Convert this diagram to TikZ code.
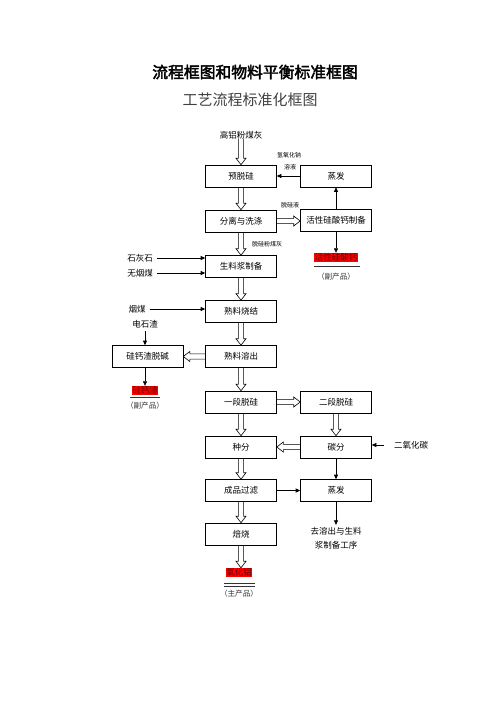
\documentclass[tikz,border=0pt]{standalone}
\usepackage{fontspec}
\usetikzlibrary{arrows.meta,calc}
\newfontfamily\cjk{Noto Sans CJK SC}
\newfontfamily\cjkb[FakeBold=2.5]{Noto Sans CJK SC}
\tikzset{
  box/.style={draw, line width=0.6pt, minimum width=71pt, minimum height=22pt, inner sep=0pt, font=\cjk\fontsize{8.5pt}{10pt}\selectfont},
  lbl/.style={inner sep=0pt, font=\cjk\fontsize{8.5pt}{10pt}\selectfont},
  tinylbl/.style={inner sep=0pt, font=\cjk\fontsize{6pt}{7pt}\selectfont},
  prodlbl/.style={inner sep=0pt, font=\cjk\fontsize{7.6pt}{9pt}\selectfont, text=black!80},
  redlbl/.style={fill=red, inner sep=0.6pt, font=\cjk\fontsize{8.5pt}{9pt}\selectfont, text=red!40!black},
  arr/.style={line width=0.6pt, -{Triangle[length=4.5pt,width=4pt]}},
  hol/.style={draw, line width=0.6pt, line join=miter, to path={
    let \p1=(\tikztostart), \p2=(\tikztotarget),
        \n1={atan2(\y2-\y1,\x2-\x1)}, \n2={veclen(\x2-\x1,\y2-\y1)}, \n3={\n2-6.5pt}
    in {[shift={(\p1)}, rotate=\n1]
      (0pt,-2.6pt) -- (\n3,-2.6pt) -- (\n3,-5pt) -- (\n2,0pt)
      -- (\n3,5pt) -- (\n3,2.6pt) -- (0pt,2.6pt)}}},
  rule/.style={line width=0.6pt, black!80}
}
\begin{document}
\begin{tikzpicture}[x=1pt,y=-1pt]
\useasboundingbox (0,0) rectangle (496,702);
% titles
\node[inner sep=0pt, font=\cjkb\fontsize{15.8pt}{18pt}\selectfont] (title) at (255,72) {流程框图和物料平衡标准框图};
\node[inner sep=0pt, font=\cjk\fontsize{15pt}{18pt}\selectfont, text=black!75] (subtitle) at (250,100) {工艺流程标准化框图};
% left column
\node[lbl] (gl) at (241,135) {高铝粉煤灰};
\node[box] (ytg) at (241,176) {预脱硅};
\node[box] (fl) at (241,221) {分离与洗涤};
\node[box] (sl) at (241,266.5) {生料浆制备};
\node[box] (sj) at (241,311.5) {熟料烧结};
\node[box] (rc) at (241,356.5) {熟料溶出};
\node[box] (yd) at (241,402) {一段脱硅};
\node[box] (zfen) at (241,447) {种分};
\node[box] (cp) at (241,490.5) {成品过滤};
\node[box] (bs) at (241,534) {焙烧};
\node[redlbl] (r3) at (239,572.5) {氧化铝};
\node[prodlbl] (p3) at (239,594) {（主产品）};
\draw[rule] (224,583) -- (255,583);
\draw[rule] (224,586) -- (255,586);
% right column
\node[box] (zf1) at (336,176) {蒸发};
\node[box] (hx) at (336,220) {活性硅酸钙制备};
\node[redlbl] (r1) at (336,257.5) {活性硅酸钙};
\draw[rule] (314,266) -- (360,266);
\node[prodlbl] (p1) at (336,277) {（副产品）};
\node[box] (ed) at (336,402) {二段脱硅};
\node[box] (tf) at (336,447) {碳分};
\node[box] (zf2) at (336,490.5) {蒸发};
\node[lbl] (qu1) at (336,531) {去溶出与生料};
\node[lbl] (qu2) at (336,545) {浆制备工序};
\node[lbl] (co2) at (411,445) {二氧化碳};
% left side
\node[lbl] (shs) at (140,258) {石灰石};
\node[lbl] (wym) at (140,273) {无烟煤};
\node[lbl] (ym) at (137,309) {烟煤};
\node[lbl] (dsz) at (145,324) {电石渣};
\node[box] (gz) at (147.5,356.5) {硅钙渣脱碱};
\node[redlbl] (r2) at (145,390.5) {硅钙渣};
\draw[rule] (130,397) -- (160,397);
\node[prodlbl] (p2) at (145,406) {（副产品）};
% small labels
\node[tinylbl] (naoh) at (289,155) {氢氧化钠};
\node[tinylbl] (ry) at (290,167.5) {溶液};
\node[tinylbl] (tgy) at (290,205.5) {脱硅液};
\node[tinylbl] (tgf) at (267,244) {脱硅粉煤灰};
% hollow arrows
\draw[hol] (gl.south) to (ytg.north);
\draw[hol] (ytg.south) to (fl.north);
\draw[hol] (fl.south) to (sl.north);
\draw[hol] (sl.south) to (sj.north);
\draw[hol] (sj.south) to (rc.north);
\draw[hol] (rc.south) to (yd.north);
\draw[hol] (yd.south) to (zfen.north);
\draw[hol] (zfen.south) to (cp.north);
\draw[hol] (cp.south) to (bs.north);
\draw[hol] (bs.south) to (bs.south |- r3.north);
\draw[hol] (fl.east) to (fl.east -| hx.west);
\draw[hol] (rc.west) to (rc.west -| gz.east);
\draw[hol] (yd.east) to (ed.west);
\draw[hol] (ed.south) to (tf.north);
\draw[hol] (tf.west) to (tf.west -| zfen.east);
% solid arrows
\draw[arr] (zf1) -- (ytg);
\draw[arr] (hx) -- (zf1);
\draw[arr] (hx) -- (r1);
\draw[arr, shorten <=4pt] (shs.east) -- (shs.east -| sl.west);
\draw[arr, shorten <=4pt] (wym.east) -- (wym.east -| sl.west);
\draw[arr, shorten <=4pt] (ym.east) -- (ym.east -| sj.west);
\draw[arr, shorten <=3pt] (dsz.south) -- (dsz.south |- gz.north);
\draw[arr] (gz.south -| r2) -- (r2);
\draw[arr, shorten <=10pt] (co2.west) -- (co2.west -| tf.east);
\draw[arr] (tf) -- (zf2);
\draw[arr] (cp) -- (zf2);
\draw[arr, shorten >=2pt] (zf2) -- (qu1);
\end{tikzpicture}
\end{document}
